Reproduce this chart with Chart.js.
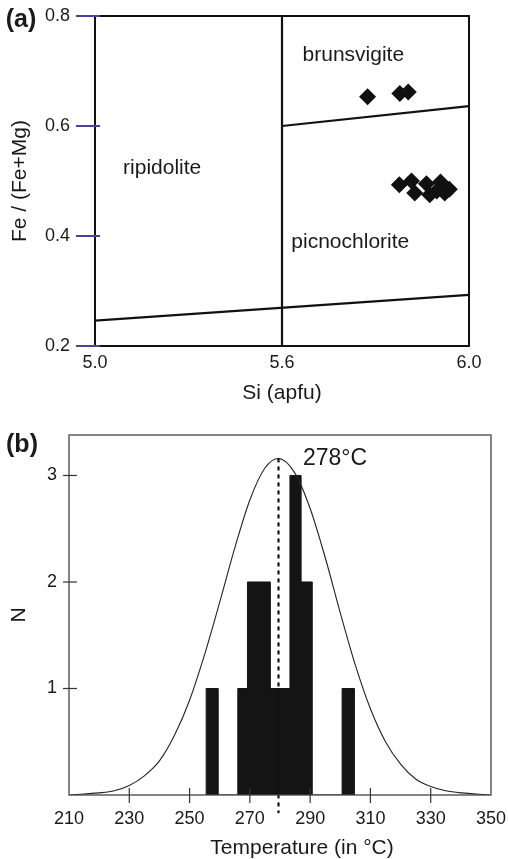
<!DOCTYPE html>
<html>
<head>
<meta charset="utf-8">
<script src="https://cdn.jsdelivr.net/npm/chart.js@4.4.1/dist/chart.umd.min.js"></script>
<style>
  html, body { margin: 0; padding: 0; background: #fff; }
  #wrap { position: relative; width: 508px; height: 859px; }
  canvas { position: absolute; left: 0; }
  #chart_a { top: 0; }
  #chart_b { top: 410px; }
</style>
</head>
<body>
<div id="wrap">
  <canvas id="chart_a" width="508" height="410"></canvas>
  <canvas id="chart_b" width="508" height="449"></canvas>
</div>
<script>
// ? PANEL (a) : Fe / (Fe+Mg) against Si (apfu)

// ! tick values of the two axes
const si_ticks = [5.0, 5.6, 6.0];
const si_tick_labels = ['5.0', '5.6', '6.0'];
const fe_ticks = [0.2, 0.4, 0.6, 0.8];

// ! analysed chlorites
const sample_si = [5.783, 5.852, 5.870, 5.851, 5.877, 5.884, 5.909, 5.916, 5.931, 5.939, 5.948, 5.958];
const sample_fe = [0.653, 0.659, 0.662, 0.493, 0.500, 0.478, 0.495, 0.475, 0.482, 0.498, 0.478, 0.485];

// ! field boundaries, [si, fe] pairs
const boundary_vertical = [[5.6, 0.2], [5.6, 0.8]];
const boundary_lower = [[5.0, 0.246], [6.0, 0.293]];
const boundary_upper = [[5.6, 0.600], [6.0, 0.636]];

const field_names = ['brunsvigite', 'ripidolite', 'picnochlorite'];

// ? PANEL (b) : temperature histogram

const temp_ticks = [210, 230, 250, 270, 290, 310, 330, 350];
const n_ticks = [1, 2, 3];

// ! histogram bins (edges) and their counts
const hist_edges = [255.5, 259.5, 266, 269.2, 276.8, 283.3, 287, 290.7, 300.6, 304.7];
const hist_counts = [1, 0, 1, 2, 1, 3, 2, 0, 1];

// ! normal curve
const curve_temp = [210, 215, 220, 225, 230, 235, 240, 245, 250, 255, 260, 265, 270, 275, 279.5,
    285, 290, 295, 300, 305, 310, 315, 320, 325, 330, 335, 340, 345, 350];
const curve_n = [0.00, 0.01, 0.02, 0.04, 0.09, 0.18, 0.32, 0.56, 0.89, 1.32, 1.81, 2.32, 2.77, 3.07, 3.16,
    3.02, 2.69, 2.23, 1.71, 1.22, 0.81, 0.50, 0.29, 0.15, 0.08, 0.04, 0.02, 0.01, 0.00];

const mean_temp = 279.5;
const mean_label = '278°C';

// ! the x axis of (a) is stretched: 5.0-5.6 and 5.6-6.0 take the same width
function si_to_u(si) {
    return si <= 5.6 ? (si - 5.0) / 0.6 : 1 + (si - 5.6) / 0.4;
}

const FONT = "'Liberation Sans', Arial, Helvetica, sans-serif";
const INK = '#1a1a1a';
Chart.defaults.font.family = FONT;
Chart.defaults.color = INK;
Chart.defaults.animation = false;

// ! frame round the plot area plus tick marks crossing the axes
const frame_plugin = {
    id: 'frame',
    afterDraw(chart, args, opts) {
        const { ctx, chartArea: a } = chart;
        ctx.save();
        ctx.lineWidth = opts.width;
        ctx.strokeStyle = opts.color;
        ctx.strokeRect(a.left, a.top, a.right - a.left, a.bottom - a.top);
        const draw_ticks = (scale, spec, horizontal) => {
            if (!spec) return;
            ctx.lineWidth = spec.width;
            ctx.strokeStyle = spec.color;
            scale.ticks.forEach((t) => {
                if (spec.skipEnds && (t.value === scale.min || t.value === scale.max)) return;
                const p = scale.getPixelForValue(t.value);
                ctx.beginPath();
                if (horizontal) {
                    ctx.moveTo(p, a.bottom - spec.inside);
                    ctx.lineTo(p, a.bottom + spec.outside);
                } else {
                    ctx.moveTo(a.left - spec.outside, p);
                    ctx.lineTo(a.left + spec.inside, p);
                }
                ctx.stroke();
            });
        };
        draw_ticks(chart.scales.x, opts.xTicks, true);
        draw_ticks(chart.scales.y, opts.yTicks, false);
        if (opts.letter) {
            ctx.font = 'bold 25px ' + FONT;
            ctx.fillStyle = INK;
            ctx.textAlign = 'center';
            ctx.textBaseline = 'middle';
            ctx.fillText(opts.letter.text, opts.letter.x, opts.letter.y);
        }
        ctx.restore();
    }
};

// ! keep the plot area where it is, whatever the tick labels want
const fix_box = (w, h) => (s) => {
    if (w) s.width = w;
    if (h) s.height = h;
    s.paddingLeft = 0;
    s.paddingRight = 0;
    s.paddingTop = 0;
    s.paddingBottom = 0;
};

// ! field names of panel (a), in data units [si, fe]
const field_pos = [[5.644, 0.729], [5.09, 0.524], [5.62, 0.389]];

const field_plugin = {
    id: 'fields',
    afterDatasetsDraw(chart) {
        const { ctx, scales: { x, y } } = chart;
        ctx.save();
        ctx.font = '21px ' + FONT;
        ctx.fillStyle = INK;
        ctx.textBaseline = 'middle';
        field_names.forEach((name, i) => {
            ctx.fillText(name, x.getPixelForValue(si_to_u(field_pos[i][0])), y.getPixelForValue(field_pos[i][1]));
        });
        ctx.restore();
    }
};

const to_points = (pairs) => pairs.map(([s, f]) => ({ x: si_to_u(s), y: f }));

const chart_a = new Chart(document.getElementById('chart_a').getContext('2d'), {
    type: 'scatter',
    data: {
        datasets: [
            {
                data: sample_si.map((s, i) => ({ x: si_to_u(s), y: sample_fe[i] })),
                pointStyle: 'rectRot',
                pointRadius: 8.5,
                backgroundColor: '#111',
                borderWidth: 0,
            },
            { data: to_points(boundary_vertical), showLine: true, borderColor: '#111', borderWidth: 2.2, pointRadius: 0 },
            { data: to_points(boundary_lower), showLine: true, borderColor: '#111', borderWidth: 2.2, pointRadius: 0 },
            { data: to_points(boundary_upper), showLine: true, borderColor: '#111', borderWidth: 2.2, pointRadius: 0 },
        ],
    },
    options: {
        responsive: false,
        devicePixelRatio: 1,
        layout: { padding: { left: 0, top: 16, right: 39, bottom: 0 } },
        scales: {
            x: {
                type: 'linear',
                min: 0,
                max: 2,
                afterBuildTicks: (s) => { s.ticks = si_ticks.map((v) => ({ value: si_to_u(v) })); },
                afterFit: fix_box(0, 64),
                ticks: { callback: (v, i) => si_tick_labels[i], font: { size: 18 }, padding: 6, maxRotation: 0 },
                grid: { display: false, drawTicks: false },
                border: { display: false },
                title: { display: true, text: 'Si (apfu)', font: { size: 21 }, padding: { top: 0, bottom: 4 } },
            },
            y: {
                type: 'linear',
                min: 0.2,
                max: 0.8,
                afterBuildTicks: (s) => { s.ticks = fe_ticks.map((v) => ({ value: v })); },
                afterFit: fix_box(95, 0),
                ticks: { callback: (v) => v.toFixed(1), font: { size: 18 }, padding: 25 },
                grid: { display: false, drawTicks: false },
                border: { display: false },
                title: { display: true, text: 'Fe / (Fe+Mg)', font: { size: 21 }, padding: { top: 8, bottom: 0 } },
            },
        },
        plugins: {
            legend: { display: false },
            tooltip: { enabled: false },
            frame: {
                width: 2,
                color: '#111',
                yTicks: { outside: 19, inside: 5, color: '#4b3fa0', width: 2 },
                letter: { text: '(a)', x: 21, y: 20 },
            },
        },
    },
    plugins: [frame_plugin, field_plugin],
});

// ? PANEL (b)

// ! step outline of the histogram: count[i] holds from edge[i] to edge[i+1]
const hist_points = [{ x: hist_edges[0], y: 0 }]
    .concat(hist_counts.map((c, i) => ({ x: hist_edges[i], y: c })))
    .concat([{ x: hist_edges[hist_edges.length - 1], y: 0 }]);

const mean_plugin = {
    id: 'mean_label',
    afterDatasetsDraw(chart) {
        const { ctx, scales: { x, y }, chartArea: a } = chart;
        ctx.save();
        ctx.fillStyle = INK;
        ctx.textBaseline = 'middle';
        ctx.font = '23px ' + FONT;
        ctx.fillText(mean_label, x.getPixelForValue(287.6), y.getPixelForValue(3.16));
        // axis title sits a little right of the plot centre
        ctx.font = '21px ' + FONT;
        ctx.textAlign = 'center';
        ctx.fillText('Temperature (in °C)', (a.left + a.right) / 2 + 22, a.bottom + 53);
        ctx.restore();
    }
};

const chart_b = new Chart(document.getElementById('chart_b').getContext('2d'), {
    type: 'scatter',
    data: {
        datasets: [
            {
                data: [{ x: mean_temp, y: 3.16 }, { x: mean_temp, y: -0.17 }],
                showLine: true,
                borderColor: '#111',
                borderWidth: 2.2,
                borderDash: [4, 4],
                pointRadius: 0,
                clip: false,
            },
            {
                data: curve_temp.map((t, i) => ({ x: t, y: curve_n[i] })),
                showLine: true,
                borderColor: '#222',
                borderWidth: 1.1,
                pointRadius: 0,
                cubicInterpolationMode: 'monotone',
            },
            {
                data: hist_points,
                showLine: true,
                stepped: 'before',
                fill: 'origin',
                backgroundColor: '#141414',
                borderColor: '#141414',
                borderWidth: 1,
                pointRadius: 0,
            },
        ],
    },
    options: {
        responsive: false,
        devicePixelRatio: 1,
        layout: { padding: { left: 0, top: 25, right: 17, bottom: 0 } },
        scales: {
            x: {
                type: 'linear',
                min: 210,
                max: 350,
                afterBuildTicks: (s) => { s.ticks = temp_ticks.map((v) => ({ value: v })); },
                afterFit: fix_box(0, 64),
                ticks: { font: { size: 18 }, padding: 13, maxRotation: 0 },
                grid: { display: false, drawTicks: false },
                border: { display: false },
            },
            y: {
                type: 'linear',
                min: 0,
                max: 3.38,
                afterBuildTicks: (s) => { s.ticks = n_ticks.map((v) => ({ value: v })); },
                afterFit: fix_box(69, 0),
                ticks: { font: { size: 18 }, padding: 12 },
                grid: { display: false, drawTicks: false },
                border: { display: false },
                title: { display: true, text: 'N', font: { size: 21 }, padding: { top: 7, bottom: 0 } },
            },
        },
        plugins: {
            legend: { display: false },
            tooltip: { enabled: false },
            frame: {
                width: 1.3,
                color: '#444',
                xTicks: { outside: 8, inside: 7, color: '#333', width: 1.2, skipEnds: true },
                yTicks: { outside: 6, inside: 8, color: '#333', width: 1.2 },
                letter: { text: '(b)', x: 22, y: 35 },
            },
        },
    },
    plugins: [frame_plugin, mean_plugin],
});
</script>
</body>
</html>
